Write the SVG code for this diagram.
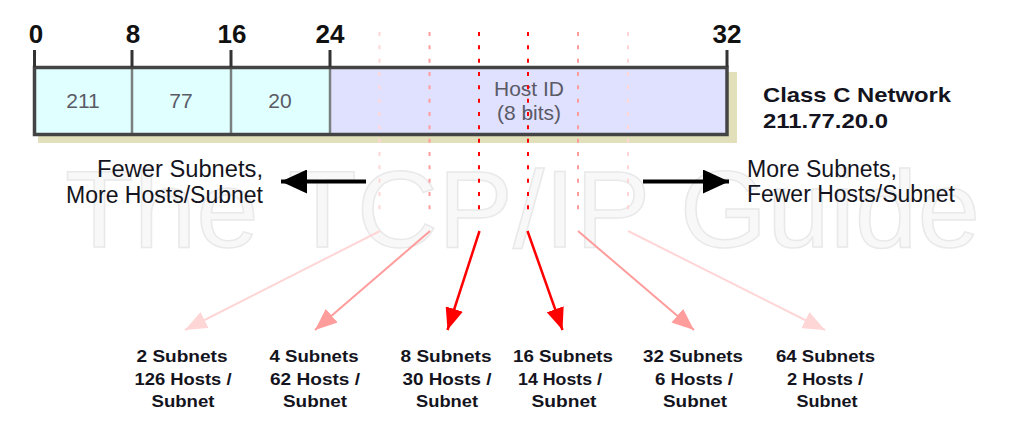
<svg xmlns="http://www.w3.org/2000/svg" width="1024" height="428" viewBox="0 0 1024 428">
<style>
  .wm { font-family: "Liberation Sans", Arial, sans-serif; font-size: 110px; fill: #f8f8f8; stroke: #e9e9e9; stroke-width: 1.5; }
  .num { font-family: "Liberation Sans", Arial, sans-serif; font-size: 26px; font-weight: bold; fill: #111; text-anchor: middle; }
  .cell { font-family: "Liberation Sans", Arial, sans-serif; font-size: 21px; fill: #5a5a66; text-anchor: middle; }
  .side { font-family: "Liberation Sans", Arial, sans-serif; font-size: 23px; fill: #141420; }
  .cls { font-family: "Liberation Sans", Arial, sans-serif; font-size: 21px; font-weight: bold; fill: #141420; }
  .lbl { font-family: "Liberation Sans", Arial, sans-serif; font-size: 17px; font-weight: bold; fill: #141420; text-anchor: middle; }
  .tick { stroke: #333; stroke-width: 3; }
  .div { stroke: #7a8080; stroke-width: 2.5; }
  .dash { stroke-width: 2; stroke-dasharray: 4 9.33; fill: none; }
  .c1 { stroke: #ffd6d6; }
  .c2 { stroke: #ff9c9c; }
  .c3 { stroke: #ff0000; }
</style>
<defs>
  <marker id="ah1" viewBox="0 0 22 18" refX="22" refY="9" markerWidth="22" markerHeight="18" markerUnits="userSpaceOnUse" orient="auto"><path d="M0,0 L22,9 L0,18 z" fill="#ffd6d6"/></marker>
  <marker id="ah2" viewBox="0 0 22 18" refX="22" refY="9" markerWidth="22" markerHeight="18" markerUnits="userSpaceOnUse" orient="auto"><path d="M0,0 L22,9 L0,18 z" fill="#ff9c9c"/></marker>
  <marker id="ah3" viewBox="0 0 22 18" refX="22" refY="9" markerWidth="22" markerHeight="18" markerUnits="userSpaceOnUse" orient="auto"><path d="M0,0 L22,9 L0,18 z" fill="#ff0000"/></marker>
  <marker id="ahb" viewBox="0 0 26 24" refX="26" refY="12" markerWidth="26" markerHeight="24" markerUnits="userSpaceOnUse" orient="auto"><path d="M0,0 L26,12 L0,24 z" fill="#000"/></marker>
</defs>
<rect width="1024" height="428" fill="#ffffff"/>

<text class="wm" x="65" y="247" textLength="915" lengthAdjust="spacingAndGlyphs">The TCP/IP Guide</text>

<g id="address-box">
  <rect x="38" y="72" width="699" height="71" fill="#e2dfbb"/>
  <rect x="34.5" y="67.5" width="97.5" height="67" fill="#e0ffff"/>
  <rect x="132" y="67.5" width="99" height="67" fill="#e0ffff"/>
  <rect x="231" y="67.5" width="99" height="67" fill="#e0ffff"/>
  <rect x="330" y="67.5" width="397" height="67" fill="#e0e0ff"/>
  <line class="div" x1="132" y1="67.5" x2="132" y2="134.5"/>
  <line class="div" x1="231" y1="67.5" x2="231" y2="134.5"/>
  <line class="div" x1="330" y1="67.5" x2="330" y2="134.5"/>
  <rect x="34.5" y="67.5" width="692.5" height="67" fill="none" stroke="#444" stroke-width="3.5"/>
  <line class="tick" x1="34.5" y1="50" x2="34.5" y2="67"/>
  <line class="tick" x1="132" y1="50" x2="132" y2="67"/>
  <line class="tick" x1="231" y1="50" x2="231" y2="67"/>
  <line class="tick" x1="330" y1="50" x2="330" y2="67" stroke="#666"/>
  <line class="tick" x1="727" y1="50" x2="727" y2="67"/>
  <text class="num" x="36" y="42.5">0</text>
  <text class="num" x="133" y="42.5">8</text>
  <text class="num" x="232" y="42.5">16</text>
  <text class="num" x="330" y="42.5">24</text>
  <text class="num" x="727" y="42.5">32</text>
  <text class="cell" x="83" y="108">211</text>
  <text class="cell" x="181" y="108">77</text>
  <text class="cell" x="280" y="108">20</text>
  <text class="cell" x="529" y="96">Host ID</text>
  <text class="cell" x="529" y="119.5">(8 bits)</text>
</g>

<g id="network-label">
  <text class="cls" x="763" y="101.7" textLength="188" lengthAdjust="spacingAndGlyphs">Class C Network</text>
  <text class="cls" x="763" y="128.3" textLength="125" lengthAdjust="spacingAndGlyphs">211.77.20.0</text>
</g>

<g id="fewer-label">
  <text class="side" x="97" y="177" textLength="166" lengthAdjust="spacingAndGlyphs">Fewer Subnets,</text>
  <text class="side" x="66" y="203" textLength="197" lengthAdjust="spacingAndGlyphs">More Hosts/Subnet</text>
</g>
<g id="more-label">
  <text class="side" x="747" y="177" textLength="150" lengthAdjust="spacingAndGlyphs">More Subnets,</text>
  <text class="side" x="747" y="202" textLength="208" lengthAdjust="spacingAndGlyphs">Fewer Hosts/Subnet</text>
</g>

<g id="connectors">
  <line class="dash c1" x1="379.5" y1="32" x2="379.5" y2="210"/>
  <line class="dash c2" x1="429.5" y1="32" x2="429.5" y2="210"/>
  <line class="dash c3" x1="479" y1="32" x2="479" y2="210"/>
  <line class="dash c3" x1="528" y1="32" x2="528" y2="210"/>
  <line class="dash c2" x1="578" y1="32" x2="578" y2="210"/>
  <line class="dash c1" x1="628" y1="32" x2="628" y2="210"/>

  <line x1="366" y1="181.5" x2="281" y2="181.5" stroke="#000" stroke-width="4" marker-end="url(#ahb)"/>
  <line x1="643" y1="181.5" x2="729" y2="181.5" stroke="#000" stroke-width="4" marker-end="url(#ahb)"/>

  <line x1="380" y1="231" x2="185" y2="330" stroke="#ffd6d6" stroke-width="2" marker-end="url(#ah1)"/>
  <line x1="430" y1="231" x2="315" y2="330" stroke="#ff9c9c" stroke-width="2" marker-end="url(#ah2)"/>
  <line x1="479.5" y1="231" x2="447.5" y2="330" stroke="#ff0000" stroke-width="2.5" marker-end="url(#ah3)"/>
  <line x1="527.5" y1="231" x2="562.5" y2="330" stroke="#ff0000" stroke-width="2.5" marker-end="url(#ah3)"/>
  <line x1="578" y1="231" x2="694" y2="330" stroke="#ff9c9c" stroke-width="2" marker-end="url(#ah2)"/>
  <line x1="628" y1="231" x2="825" y2="330" stroke="#ffd6d6" stroke-width="2" marker-end="url(#ah1)"/>
</g>

<g id="opt-2">
  <text class="lbl" x="182" y="362" textLength="91" lengthAdjust="spacingAndGlyphs">2 Subnets</text>
  <text class="lbl" x="183" y="384.5" textLength="97" lengthAdjust="spacingAndGlyphs">126 Hosts /</text>
  <text class="lbl" x="183" y="407" textLength="63" lengthAdjust="spacingAndGlyphs">Subnet</text>
</g>
<g id="opt-4">
  <text class="lbl" x="314" y="362" textLength="89" lengthAdjust="spacingAndGlyphs">4 Subnets</text>
  <text class="lbl" x="315" y="384.5" textLength="90" lengthAdjust="spacingAndGlyphs">62 Hosts /</text>
  <text class="lbl" x="315" y="407" textLength="64" lengthAdjust="spacingAndGlyphs">Subnet</text>
</g>
<g id="opt-8">
  <text class="lbl" x="446" y="362" textLength="91" lengthAdjust="spacingAndGlyphs">8 Subnets</text>
  <text class="lbl" x="447" y="384.5" textLength="89" lengthAdjust="spacingAndGlyphs">30 Hosts /</text>
  <text class="lbl" x="447" y="407" textLength="62" lengthAdjust="spacingAndGlyphs">Subnet</text>
</g>
<g id="opt-16">
  <text class="lbl" x="563" y="362" textLength="100" lengthAdjust="spacingAndGlyphs">16 Subnets</text>
  <text class="lbl" x="560" y="384.5" textLength="84" lengthAdjust="spacingAndGlyphs">14 Hosts /</text>
  <text class="lbl" x="564" y="407" textLength="65" lengthAdjust="spacingAndGlyphs">Subnet</text>
</g>
<g id="opt-32">
  <text class="lbl" x="693" y="362" textLength="100" lengthAdjust="spacingAndGlyphs">32 Subnets</text>
  <text class="lbl" x="694" y="384.5" textLength="78" lengthAdjust="spacingAndGlyphs">6 Hosts /</text>
  <text class="lbl" x="695" y="407" textLength="64" lengthAdjust="spacingAndGlyphs">Subnet</text>
</g>
<g id="opt-64">
  <text class="lbl" x="825.5" y="362" textLength="99" lengthAdjust="spacingAndGlyphs">64 Subnets</text>
  <text class="lbl" x="825" y="384.5" textLength="76" lengthAdjust="spacingAndGlyphs">2 Hosts /</text>
  <text class="lbl" x="827" y="407" textLength="61" lengthAdjust="spacingAndGlyphs">Subnet</text>
</g>
</svg>
